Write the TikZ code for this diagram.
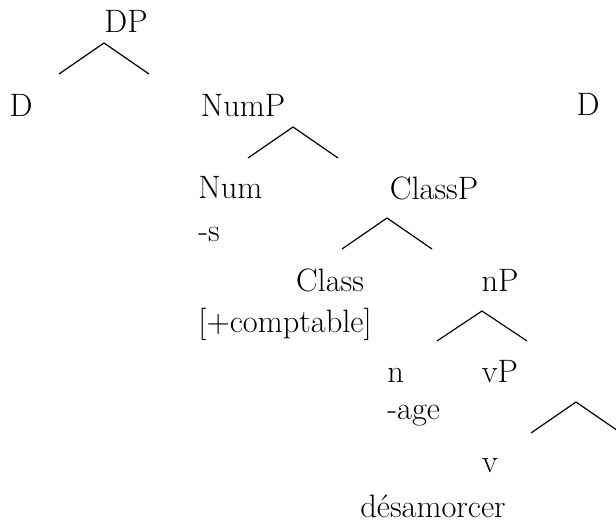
\documentclass[tikz,border=0pt]{standalone}
\begin{document}
\begin{tikzpicture}[x=0.5pt,y=-0.5pt,
  lbl/.style={inner sep=0pt,anchor=base,font=\fontsize{16.2}{19}\selectfont},
  lblw/.style={lbl,anchor=base west},
  branch/.style={line width=0.6pt,line cap=butt,line join=miter}]
\useasboundingbox (0,0) rectangle (616,523);
% labels
\node[lbl]  (dp)     at (126,33)  {DP};
\node[lbl]  (d)      at (21,117)  {D};
\node[lbl]  (nump)   at (243,117) {NumP};
\node[lbl]  (d2)     at (588,116) {D};
\node[lblw] (num)    at (198,199) {Num};
\node[lblw] (s)      at (198,242) {-s};
\node[lbl]  (classp) at (434,200) {ClassP};
\node[lbl]  (class)  at (330,292) {Class};
\node[lblw] (comp)   at (198,333) {[+comptable]};
\node[lbl]  (np)     at (500,292) {nP};
\node[lblw] (n)      at (387,383) {n};
\node[lbl]  (vp)     at (500,383) {vP};
\node[lblw] (age)    at (387,420) {-age};
\node[lbl]  (v)      at (490,473) {v};
\node[lbl]  (desam)  at (433,517) {désamorcer};
% branch points
\coordinate (dpA) at (104,43);  \coordinate (dpL) at (59,74);   \coordinate (dpR) at (149,74);
\coordinate (nuA) at (293,127); \coordinate (nuL) at (248,158); \coordinate (nuR) at (338,158);
\coordinate (clA) at (387,218); \coordinate (clL) at (342,249); \coordinate (clR) at (432,249);
\coordinate (nA)  at (482,311); \coordinate (nL)  at (437,341); \coordinate (nR)  at (527,341);
\coordinate (vA)  at (576,402); \coordinate (vL)  at (531,433); \coordinate (vR)  at (621,433);
\draw[branch] (dpL) -- (dpA) -- (dpR);
\draw[branch] (nuL) -- (nuA) -- (nuR);
\draw[branch] (clL) -- (clA) -- (clR);
\draw[branch] (nL) -- (nA) -- (nR);
\draw[branch] (vL) -- (vA) -- (vR);
\end{tikzpicture}
\end{document}
